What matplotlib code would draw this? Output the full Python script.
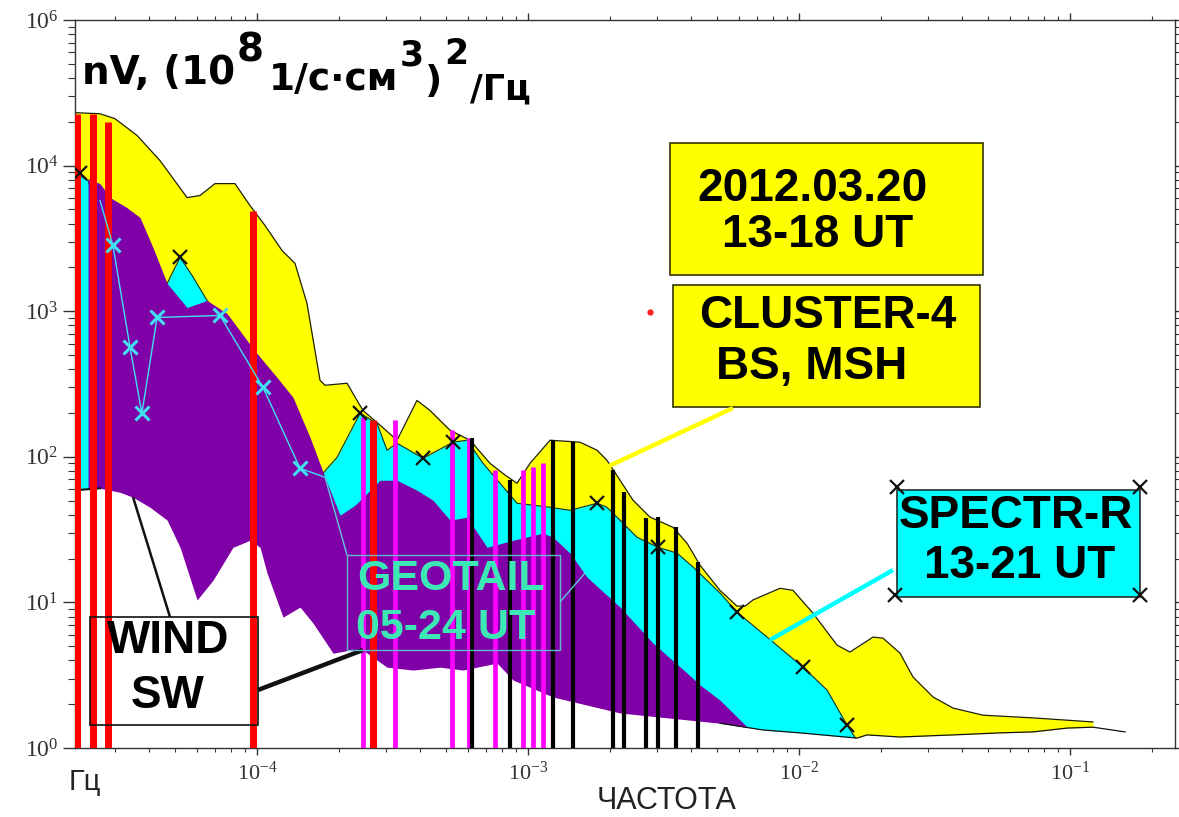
import matplotlib
matplotlib.use('Agg')
import matplotlib.pyplot as plt
from matplotlib.patches import Rectangle
from matplotlib.lines import Line2D
from matplotlib.ticker import FixedLocator, FixedFormatter, NullFormatter, LogLocator

plt.rcParams['font.family'] = ['Liberation Sans', 'DejaVu Sans']
plt.rcParams['mathtext.fontset'] = 'custom'
plt.rcParams['mathtext.rm'] = 'Liberation Serif'
plt.rcParams['mathtext.it'] = 'Liberation Serif:italic'
plt.rcParams['mathtext.bf'] = 'Liberation Serif:bold'

# ---------------- data (frequency in Hz, PSD) ----------------
# CLUSTER-4 spectrum (yellow)
cluster_f = [2.13e-5, 2.635e-5, 2.99e-5, 3.61e-5, 4.39e-5, 5.52e-5, 6.16e-5, 7.00e-5, 8.29e-5,
             9.42e-5, 1.07e-4, 1.237e-4, 1.381e-4, 1.529e-4, 1.708e-4, 1.782e-4, 2.149e-4,
             2.339e-4, 2.461e-4, 2.844e-4, 3.286e-4, 3.894e-4, 4.349e-4, 5.156e-4, 6.109e-4,
             7.239e-4, 8.22e-4, 9.11e-4, 1.017e-3, 1.206e-3, 1.556e-3, 1.797e-3, 1.956e-3,
             2.186e-3, 2.441e-3, 2.82e-3, 3.428e-3, 3.862e-3, 4.313e-3, 5.11e-3, 5.904e-3,
             6.32e-3, 6.767e-3, 8.51e-3, 9.50e-3, 1.126e-2, 1.381e-2, 1.542e-2, 1.876e-2,
             2.042e-2, 2.359e-2, 2.635e-2, 3.124e-2, 3.702e-2, 4.775e-2, 7.303e-2, 0.1216]
cluster_p = [2.31e4, 2.27e4, 2.10e4, 1.61e4, 1.08e4, 6.03e3, 6.23e3, 7.52e3, 7.52e3,
             5.32e3, 3.88e3, 2.61e3, 2.13e3, 1.13e3, 335, 310, 320,
             244, 208, 165, 130, 244, 208, 152, 130,
             90.2, 75, 65.8, 90.2, 130, 126, 111, 94.6,
             69.0, 50.3, 38.5, 32.8, 25.5, 18.0, 12.1, 9.43,
             9.43, 10.4, 12.5, 12.1, 8.44, 5.09, 4.56, 5.78,
             5.68, 4.48, 3.07, 2.24, 1.88, 1.68, 1.61, 1.51]

# SPECTR-R spectrum (cyan)
spectr_f = [2.13e-5, 2.38e-5, 2.635e-5, 3.12e-5, 4.03e-5, 4.66e-5, 5.20e-5, 5.76e-5, 6.54e-5,
            7.95e-5, 1.026e-4, 1.324e-4, 1.569e-4, 1.752e-4, 1.974e-4, 2.40e-4, 2.772e-4,
            3.018e-4, 3.286e-4, 4.10e-4, 5.288e-4, 5.956e-4, 6.824e-4, 7.883e-4, 9.11e-4,
            1.206e-3, 1.429e-3, 1.797e-3, 1.956e-3, 2.186e-3, 2.525e-3, 3.018e-3, 3.546e-3,
            4.064e-3, 5.11e-3, 5.904e-3, 7.62e-3, 1.035e-2, 1.269e-2, 1.503e-2, 1.708e-2]
spectr_p = [8.9e3, 7.89e3, 4.19e3, 2.23e3, 1.39e3, 1.55e3, 2.34e3, 1.76e3, 1.185e3,
            738, 392, 178, 94.6, 77.1, 99.2, 199, 170,
            111, 124, 97.7, 126, 130, 90.2, 65.8, 48.0,
            45.0, 42.9, 48.0, 45.0, 36.7, 28.0, 23.9, 21.8,
            17.5, 11.6, 8.57, 5.78, 3.59, 2.50, 1.44, 1.0]
spectr_mark_f = [2.22e-5, 5.20e-5, 2.40e-4, 4.10e-4, 5.288e-4, 1.797e-3, 3.018e-3,
                 5.904e-3, 1.035e-2, 1.503e-2]
spectr_mark_p = [8.95e3, 2.34e3, 199, 97.7, 126, 48.0, 23.9, 8.57, 3.59, 1.44]

# GEOTAIL spectrum (purple)
geotail_f = [2.38e-5, 2.635e-5, 2.87e-5, 3.31e-5, 3.70e-5, 4.13e-5, 4.66e-5, 5.52e-5, 6.54e-5,
             7.75e-5, 9.19e-5, 1.0e-4, 1.185e-4, 1.358e-4, 1.569e-4, 1.782e-4, 2.024e-4,
             2.30e-4, 2.844e-4, 3.286e-4, 3.894e-4, 4.46e-4, 5.156e-4, 5.956e-4, 7.06e-4,
             8.80e-4, 1.136e-3, 1.237e-3, 1.429e-3, 1.651e-3, 2.186e-3, 2.892e-3, 3.862e-3,
             4.313e-3, 5.11e-3, 6.057e-3, 6.998e-3, 7.30e-3]
geotail_p = [8.15e3, 7.52e3, 6.03e3, 5.15e3, 4.40e3, 2.74e3, 1.55e3, 1.06e3, 1.185e3,
             965, 630, 513, 351, 256, 136, 72.3, 39.7,
             46.5, 69.0, 69.0, 58.9, 50.3, 36.7, 38.5, 23.9,
             26.7, 29.9, 28.0, 21.8, 14.9, 9.28, 5.25, 3.27,
             2.71, 2.13, 1.56, 1.19, 1.0]

# GEOTAIL thin curve with markers
geo_line_f = [2.635e-5, 2.94e-5, 3.40e-5, 3.76e-5, 4.28e-5, 7.30e-5, 1.052e-4, 1.441e-4, 1.782e-4]
geo_line_p = [5.75e3, 2.83e3, 564, 199, 906, 935, 300, 83.4, 72.3]

# WIND spectrum (white)
wind_f = [2.13e-5, 2.635e-5, 3.12e-5, 3.49e-5, 4.03e-5, 4.66e-5, 5.20e-5, 6.01e-5, 6.88e-5,
          8.15e-5, 9.42e-5, 1.026e-4, 1.089e-4, 1.247e-4, 1.441e-4, 1.61e-4, 1.908e-4,
          2.204e-4, 2.461e-4, 3.018e-4, 3.763e-4, 4.735e-4, 5.756e-4, 7.684e-4, 8.80e-4,
          1.237e-3, 2.186e-3, 5.11e-3, 7.364e-3, 1.009e-2, 1.637e-2, 1.782e-2, 2.359e-2,
          3.702e-2, 5.517e-2, 7.303e-2, 9.745e-2, 0.1216, 0.1596]
wind_p = [58.9, 60.8, 57.1, 52.7, 45.0, 36.7, 23.9, 10.4, 14.2,
          23.9, 26.7, 23.9, 15.9, 7.92, 9.28, 7.20, 4.48,
          4.70, 4.70, 3.59, 3.43, 3.59, 3.43, 3.83, 2.93,
          2.24, 1.74, 1.48, 1.33, 1.27, 1.17, 1.23, 1.19,
          1.23, 1.27, 1.29, 1.37, 1.39, 1.29]

# vertical event lines
red_f = [2.17e-5, 2.48e-5, 2.82e-5, 9.66e-5, 2.68e-4]
red_top = [2.27e4, 2.27e4, 2.0e4, 4.91e3, 178]
magenta_f = [2.461e-4, 3.231e-4, 5.245e-4, 6.057e-4, 7.554e-4, 9.58e-4, 1.043e-3, 1.136e-3]
magenta_top = [187, 178, 152, 134, 80.8, 80.8, 84.7, 90.2]
black_f = [6.214e-4, 8.582e-4, 1.237e-3, 1.466e-3, 2.059e-3, 2.26e-3, 2.725e-3, 3.018e-3,
           3.517e-3, 4.24e-3]
black_top = [134, 69.0, 130, 126, 80.8, 57.1, 37.8, 38.5, 32.8, 18.9]

x_ticks = [1e-4, 1e-3, 1e-2, 1e-1]
x_labels = [r'$\mathrm{10^{-4}}$', r'$\mathrm{10^{-3}}$', r'$\mathrm{10^{-2}}$', r'$\mathrm{10^{-1}}$']
y_ticks = [1, 10, 100, 1e3, 1e4, 1e5]
y_labels = [r'$\mathrm{10^{0}}$', r'$\mathrm{10^{1}}$', r'$\mathrm{10^{2}}$', r'$\mathrm{10^{3}}$',
            r'$\mathrm{10^{4}}$', r'$\mathrm{10^{6}}$']

# ---------------- figure ----------------
W, H = 1179, 817
fig = plt.figure(figsize=(W / 100, H / 100), dpi=100)
ax = fig.add_axes([75 / W, 1 - 748 / H, 1100 / W, 728 / H])
ax.set_xscale('log')
ax.set_yscale('log')
ax.set_xlim(2.13e-5, 0.244)
ax.set_ylim(1, 1e5)

YEL, CYA, PUR = '#FFFF00', '#00FFFF', '#8000A8'
ax.fill_between(cluster_f, cluster_p, 1, color=YEL, lw=0, zorder=1)
ax.plot(cluster_f, cluster_p, color='#202000', lw=0.9, zorder=1.1)
ax.fill_between(spectr_f, spectr_p, 1, color=CYA, lw=0, zorder=1.2)
ax.plot(spectr_f, spectr_p, color='#103030', lw=0.8, zorder=1.3)
ax.fill_between(geotail_f, geotail_p, 1, color=PUR, lw=0, zorder=1.4)
ax.fill_between(wind_f, wind_p, 1, color='white', lw=0, zorder=1.5)
ax.plot(wind_f[27:], wind_p[27:], color='#111111', lw=0.9, zorder=1.6)
ax.plot(wind_f[:2], wind_p[:2], color='#111111', lw=1.5, zorder=1.6)

ax.vlines(red_f, 1, red_top, colors='#FF0000', lw=5, zorder=3)
ax.vlines(magenta_f, 1, magenta_top, colors='#FF00FF', lw=3.4, zorder=3)
ax.vlines(black_f, 1, black_top, colors='#000000', lw=3.0, zorder=3.1)

ax.plot(geo_line_f, geo_line_p, color='#40E0F0', lw=1.0, zorder=3.5)
ax.plot(geo_line_f[1:8], geo_line_p[1:8], ls='none', marker='x', color='#40E0F0',
        ms=10, mew=2.2, zorder=3.6)
ax.plot(spectr_mark_f, spectr_mark_p, ls='none', marker='x', color='#111111',
        ms=10, mew=1.6, zorder=4)

# axes styling
for s in ax.spines.values():
    s.set_color('#333333')
    s.set_linewidth(1.0)
ax.xaxis.set_major_locator(FixedLocator(x_ticks))
ax.xaxis.set_major_formatter(FixedFormatter(x_labels))
ax.yaxis.set_major_locator(FixedLocator(y_ticks))
ax.yaxis.set_major_formatter(FixedFormatter(y_labels))
ax.xaxis.set_minor_locator(LogLocator(base=10, subs=range(2, 10), numticks=20))
ax.yaxis.set_minor_locator(LogLocator(base=10, subs=range(2, 10), numticks=20))
ax.xaxis.set_minor_formatter(NullFormatter())
ax.yaxis.set_minor_formatter(NullFormatter())
ax.tick_params(which='both', direction='out', top=True, right=True, color='#333333')
ax.tick_params(axis='x', which='major', length=5, width=1, labelsize=16, pad=5, labelcolor='#333333')
ax.tick_params(axis='x', which='minor', length=3, width=0.8)
ax.tick_params(axis='y', which='major', length=9, width=1, labelsize=17, pad=3, labelcolor='#333333')
ax.tick_params(axis='y', which='minor', length=5, width=0.8)


def fx(x):
    return x / W


def fy(y):
    return 1 - y / H


def box(x0, y0, x1, y1, fc, ec, lw=1.2):
    fig.add_artist(Rectangle((fx(x0), fy(y1)), (x1 - x0) / W, (y1 - y0) / H,
                             transform=fig.transFigure, fc=fc, ec=ec, lw=lw, zorder=5))


def line(x0, y0, x1, y1, color, lw):
    fig.add_artist(Line2D([fx(x0), fx(x1)], [fy(y0), fy(y1)], color=color, lw=lw,
                          transform=fig.transFigure, zorder=5, solid_capstyle='butt'))


def label(x, y, s, size, color='black'):
    fig.text(fx(x), fy(y), s, fontsize=size, fontweight='bold', color=color,
             ha='center', va='center', zorder=7)


# CLUSTER boxes
box(670, 143, 983, 275, YEL, '#333300')
label(812, 189, '2012.03.20', 33)
label(818, 235, '13-18 UT', 33)
box(673, 285, 980, 407, YEL, '#333300')
label(828, 316, 'CLUSTER-4', 33)
label(812, 367, 'BS, MSH', 33)
line(733, 408, 607, 467, '#FFFF00', 3.2)
fig.add_artist(Line2D([fx(650)], [fy(312)], marker='o', ms=3.5, color='#FF2020', ls='none',
                      transform=fig.transFigure, zorder=6))

# SPECTR-R box
box(897, 490, 1140, 597, CYA, '#203030')
label(1016, 516, 'SPECTR-R', 33)
label(1020, 566, '13-21 UT', 33)
line(893, 570, 770, 640, '#00FFFF', 3.2)
for cx, cy in [(897, 487), (1140, 487), (895, 595), (1140, 595)]:
    fig.add_artist(Line2D([fx(cx)], [fy(cy)], marker='x', ms=10, mew=1.6, color='#111111',
                          ls='none', transform=fig.transFigure, zorder=6))

# WIND box
box(90, 617, 258, 725, 'none', '#111111', 1.2)
label(168, 641, 'WIND', 33)
label(168, 696, 'SW', 33)
line(170, 617, 133, 497, '#111111', 1.8)
line(258, 690, 363, 650, '#111111', 3.2)

# GEOTAIL box
GEO = '#3CE8B4'
box(347, 555, 560, 650, 'none', '#60B8C8', 1.0)
label(451, 579, 'GEOTAIL', 31, GEO)
label(446, 628, '05-24 UT', 31, GEO)
line(325, 477, 347, 555, '#60C8D8', 1.0)
line(560, 602, 585, 573, '#60C8D8', 1.0)

# axis texts
fig.text(fx(85), fy(782), 'Гц', fontsize=21, color='#222222', ha='center', va='center')
fig.text(fx(667), fy(801), 'ЧАСТОТА', fontsize=22, color='#222222', ha='center', va='center')

# y-axis title with superscripts, chained piece by piece
TF = ['DejaVu Sans']
t0 = fig.text(fx(82), fy(84), 'nV, (10', fontsize=28, fontweight='bold', ha='left',
              va='baseline', zorder=7, family=TF)
pieces = [('8', 62, 28, 1), ('1/с·см', 90, 27, 4), ('3', 66, 25, 1), (')', 92, 27, 1),
          ('2', 64, 25, 1), ('/Гц', 99, 25, 1)]
prev = t0
for s, yb, fs, gap in pieces:
    prev = ax.annotate(s, xy=(1, fy(yb)), xycoords=(prev, 'figure fraction'),
                       xytext=(gap, 0), textcoords='offset points',
                       fontsize=fs, fontweight='bold', ha='left', va='baseline',
                       annotation_clip=False, zorder=7, family=TF)

fig.savefig('out.png', dpi=100)
